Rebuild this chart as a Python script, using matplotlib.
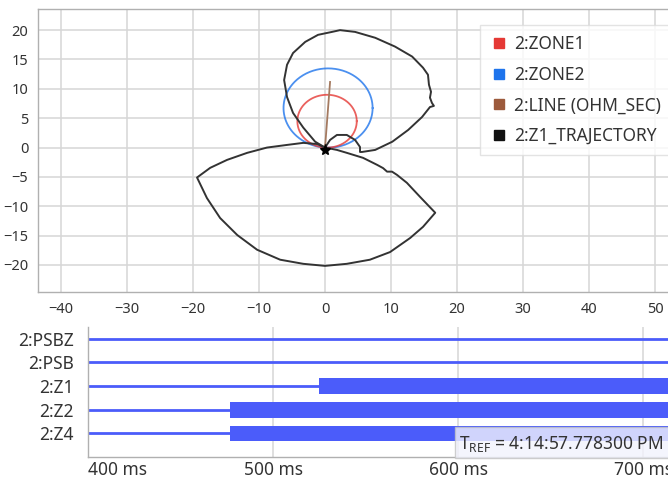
import numpy as np
import matplotlib
matplotlib.use("Agg")
import matplotlib.pyplot as plt
from matplotlib.lines import Line2D
from matplotlib.patches import Rectangle

plt.rcParams['font.family'] = ['Noto Sans', 'DejaVu Sans']

# ---- impedance plane data (ohm secondary) ----
line_angle_deg = 86.1
line_length = 11.2
zone1_reach = 9.0
zone2_reach = 13.5

# trajectory: upper loop with small inner loop
traj_upper_r = [0.0, -1.5, -3.3, -4.85, -5.76, -6.2, -5.76, -4.85, -3.0, -1.06, 1.06, 2.27,
                4.55, 7.6, 10.6, 13.2, 14.85, 15.6, 15.75, 16.06, 15.9, 16.2, 16.5, 15.9,
                14.7, 12.6, 10.2, 7.6, 5.6, 5.3, 5.3, 4.55, 3.3, 1.8, 0.76, 0.0]
traj_upper_x = [0.0, 1.0, 3.4, 5.9, 8.6, 11.5, 14.1, 16.1, 18.0, 19.2, 19.7, 20.0,
                19.7, 18.7, 17.2, 15.5, 13.6, 12.4, 10.7, 9.5, 8.5, 7.6, 7.1, 6.9,
                5.2, 3.0, 1.0, -0.4, -0.75, -0.75, 0.1, 1.3, 2.15, 2.15, 1.3, 0.0]
# trajectory: lower lens-shaped loop
traj_lower_r = [0.0, 1.8, 3.3, 5.76, 7.9, 8.8, 9.4, 10.15, 10.9, 12.4, 14.4, 16.7, 14.85,
                12.9, 9.85, 6.8, 3.3, 0.0, -3.3, -6.8, -10.3, -13.3, -15.9, -17.9, -19.4,
                -17.4, -14.85, -11.8, -8.8, -5.76, -3.3, -1.2, 0.0]
traj_lower_x = [0.0, -0.4, -0.9, -1.75, -2.95, -3.5, -4.1, -4.1, -4.65, -6.0, -8.4, -11.1, -13.5,
                -15.4, -17.8, -19.1, -19.8, -20.15, -19.8, -19.1, -17.4, -14.9, -12.0, -8.6, -5.1,
                -3.45, -2.1, -0.9, 0.0, 0.45, 0.8, 0.6, 0.0]
traj_end = (0.0, -0.4)

legend_labels = ['2:ZONE1', '2:ZONE2', '2:LINE (OHM_SEC)', '2:Z1_TRAJECTORY']
legend_colors = ['#e53935', '#1e74ec', '#9c5a3c', '#111111']

# ---- digital channel timeline (ms) ----
channels = ['2:PSBZ', '2:PSB', '2:Z1', '2:Z2', '2:Z4']
pickup_ms = [None, None, 525.0, 476.5, 476.5]
t_start, t_end = 400.0, 713.5
time_ticks = [400, 500, 600, 700]
tref_text = r'T$_{\mathregular{REF}}$ = 4:14:57.778300 PM'

TEXT = '#333333'
GRID = '#d6d6d6'
SPINE = '#b0b0b0'
BAR = '#4b5cfa'

W, H = 668, 484
fig = plt.figure(figsize=(W / 100, H / 100), dpi=100)
fig.patch.set_facecolor('white')

# ================= impedance plane =================
ax = fig.add_axes([38 / W, 1 - 292 / H, (W - 38) / W + 0.02, (292 - 9) / H])
ax.set_xlim(-43.5, 54.0)
ax.set_ylim(-24.6, 23.6)
ax.set_xticks(np.arange(-40, 51, 10))
ax.set_yticks(np.arange(-20, 21, 5))
ax.grid(True, color=GRID, lw=1.1)
ax.set_axisbelow(True)
ax.tick_params(length=0, labelsize=10.5, colors=TEXT, pad=7)
ax.spines['right'].set_visible(False)
for s in ['left', 'top', 'bottom']:
    ax.spines[s].set_color(SPINE)
    ax.spines[s].set_linewidth(1.0)

th = np.radians(line_angle_deg)
t = np.linspace(0, 2 * np.pi, 300)
for reach, col in [(zone2_reach, legend_colors[1]), (zone1_reach, legend_colors[0])]:
    cx, cy, r = reach / 2 * np.cos(th), reach / 2 * np.sin(th), reach / 2
    ax.plot(cx + r * np.cos(t), cy + r * np.sin(t), color=col, lw=1.3, alpha=0.8)
ax.plot([0, line_length * np.cos(th)], [0, line_length * np.sin(th)],
        color='#a47a60', lw=1.3)
ax.plot(traj_upper_r, traj_upper_x, color='#333333', lw=1.4, solid_joinstyle='round')
ax.plot(traj_lower_r, traj_lower_x, color='#333333', lw=1.4, solid_joinstyle='round')
ax.plot([traj_end[0]], [traj_end[1]], marker='*', color='black', ms=8, ls='none')

handles = [Line2D([], [], marker='s', ls='none', color=c, ms=7.5) for c in legend_colors]
leg = fig.legend(handles, legend_labels, loc='upper left',
                 bbox_to_anchor=(480 / W, 1 - 25 / H), borderaxespad=0.0,
                 fontsize=12.5, frameon=True, fancybox=False, labelspacing=0.72,
                 handletextpad=0.35, borderpad=0.6, handlelength=1.0,
                 labelcolor=TEXT)
leg.get_frame().set_edgecolor('#dddddd')
leg.get_frame().set_linewidth(1.0)

# ================= digital channels =================
bx = fig.add_axes([88 / W, 1 - 457 / H, (W - 88) / W, (457 - 327) / H])
bx.set_xlim(t_start, t_end)
bx.set_ylim(5.0, -0.5)
bx.set_yticks(range(len(channels)))
bx.set_yticklabels(channels)
bx.set_xticks(time_ticks)
bx.set_xticklabels([f'{v} ms' for v in time_ticks])
bx.xaxis.get_majorticklabels()[0].set_horizontalalignment('left')
bx.tick_params(length=0, labelsize=12.5, colors=TEXT)
bx.tick_params(axis='x', pad=3)
bx.tick_params(axis='y', pad=10)
bx.grid(True, axis='x', color=GRID, lw=1.1)
bx.set_axisbelow(True)
for s in ['top', 'right']:
    bx.spines[s].set_visible(False)
for s in ['left', 'bottom']:
    bx.spines[s].set_color(SPINE)
    bx.spines[s].set_linewidth(1.0)

for i, p in enumerate(pickup_ms):
    bx.plot([t_start, t_end], [i, i], color=BAR, lw=2.0, solid_capstyle='butt')
    if p is not None:
        bx.barh(i, t_end - p, left=p, height=0.66, color=BAR, edgecolor='none')

# reference-time readout box
tip = Rectangle((455 / W, 1 - 458 / H), 0.4, 31 / H, transform=fig.transFigure,
                facecolor='#f2f3fd', edgecolor='#c4c4c4', lw=1.0, alpha=0.8, zorder=5)
fig.patches.append(tip)
fig.text(459 / W, 1 - 444 / H, tref_text, fontsize=12.5, color=TEXT, va='center',
         ha='left', zorder=6)

fig.savefig('out.png', dpi=100)
